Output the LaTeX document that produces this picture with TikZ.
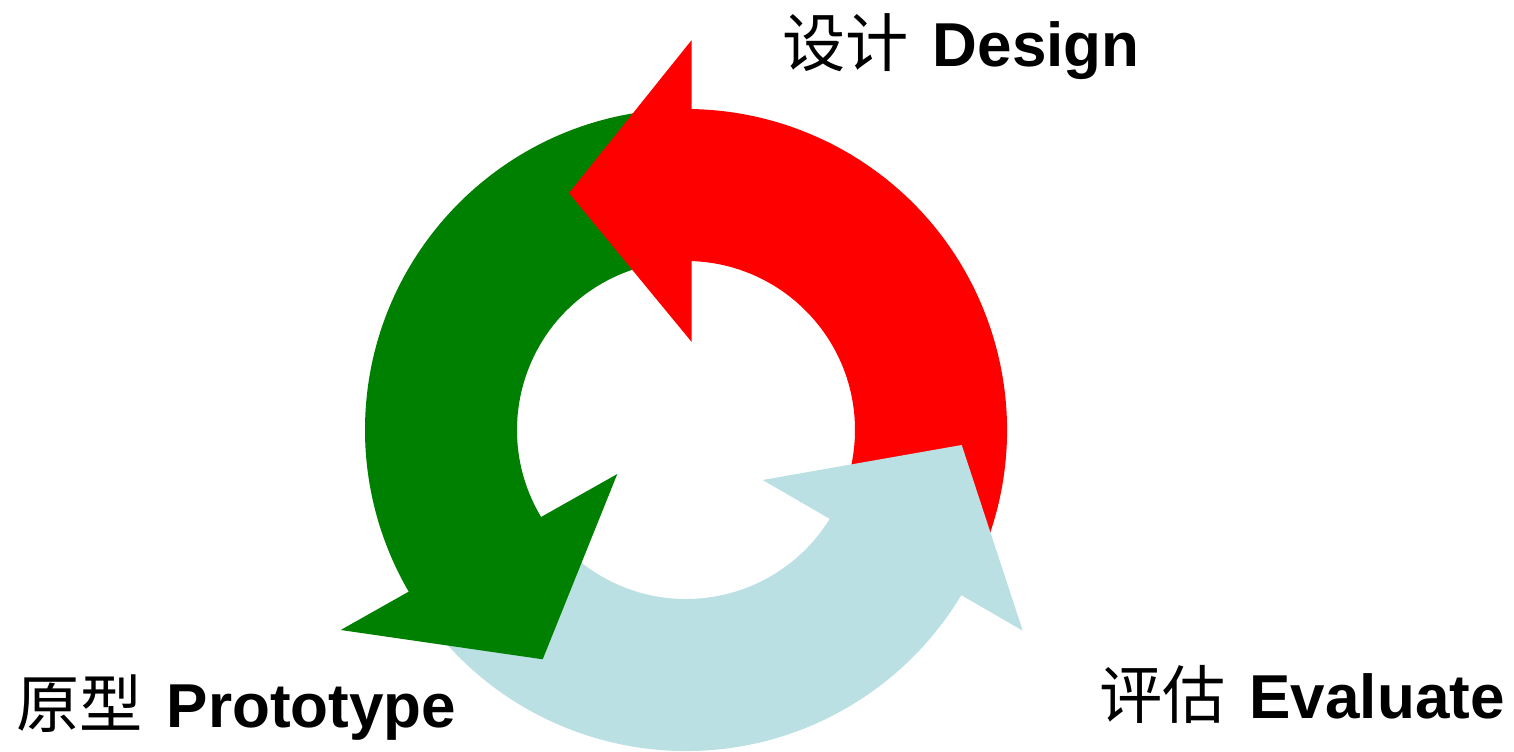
\documentclass[tikz,border=0pt]{standalone}
\usepackage{fontspec}
\setmainfont{Liberation Sans}
\newfontfamily\cjk[Scale=1.02]{Noto Sans CJK SC}
\definecolor{arrred}{RGB}{255,0,0}
\definecolor{arrgreen}{RGB}{0,128,0}
\definecolor{arrblue}{RGB}{187,224,227}
\begin{document}
\begin{tikzpicture}[x=0.5pt,y=0.5pt,
  lbl/.style={inner sep=0pt, font=\fontsize{31}{37}\selectfont},
  body/.style={draw=none},
  head/.style={draw=none}]
\fill[white] (0,0) rectangle (1514,751);
\useasboundingbox (0,0) rectangle (1514,751);
\coordinate (C) at (686,321);
% bodies
\fill[arrred, body] ([shift={(-28:321)}]C) arc[start angle=-28,end angle=90.5,radius=321]
  -- ([shift={(90.5:169)}]C) arc[start angle=90.5,end angle=-28,radius=169] -- cycle;
\fill[arrgreen, body] ([shift={(91:321)}]C) arc[start angle=91,end angle=211.5,radius=321]
  -- ([shift={(211.5:169)}]C) arc[start angle=211.5,end angle=91,radius=169] -- cycle;
\fill[arrblue, body] ([shift={(213:321)}]C) arc[start angle=213,end angle=330.5,radius=321]
  -- ([shift={(330.5:169)}]C) arc[start angle=330.5,end angle=213,radius=169] -- cycle;
% heads
\coordinate (rO) at (691.7,711);  \coordinate (rT) at (569,558);    \coordinate (rI) at (691.7,409);
\coordinate (gO) at (340.7,121);  \coordinate (gT) at (542.7,91.7); \coordinate (gI) at (617.3,277);
\coordinate (bO) at (1022.7,120.3); \coordinate (bT) at (961.7,306); \coordinate (bI) at (762.7,271);
\fill[arrred, head] (rO) -- (rT) -- (rI) -- cycle;
\fill[arrgreen, head] (gO) -- (gT) -- (gI) -- cycle;
\fill[arrblue, head] (bO) -- (bT) -- (bI) -- cycle;
% labels
\node[lbl, anchor=base east] (design) at (1140,684) {{\cjk 设计}\hspace{12pt}\textbf{Design}};
\node[lbl, anchor=base east] (proto) at (456.7,24) {{\cjk 原型}\hspace{12pt}\textbf{Prototype}};
\node[lbl, anchor=base east] (eval) at (1505,33) {{\cjk 评估}\hspace{12pt}\textbf{Evaluate}};
\end{tikzpicture}
\end{document}
